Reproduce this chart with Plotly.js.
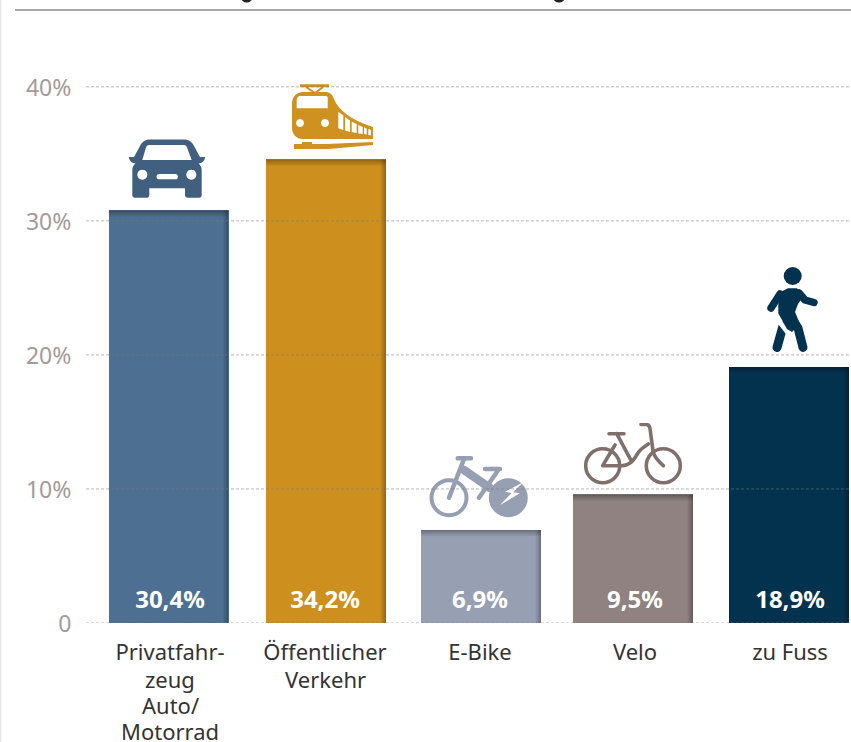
<!DOCTYPE html>
<html>
<head>
<meta charset="utf-8">
<script src="https://cdn.plot.ly/plotly-3.0.1.min.js"></script>
<style>html,body{margin:0;padding:0;background:#fff}#chart{width:851px;height:742px}</style>
</head>
<body>
<div id="chart"></div>
<script>
var categoryLines = [['Privatfahr-', 'zeug', 'Auto/', 'Motorrad'], ['Öffentlicher', 'Verkehr'], ['E-Bike'], ['Velo'], ['zu Fuss']];
var barHeights = [30.8, 34.6, 6.95, 9.6, 19.1];
var valueLabels = ['30,4%', '34,2%', '6,9%', '9,5%', '18,9%'];
var barColors = ['#4d6f92', '#cd8f1e', '#979fb3', '#8f8280', '#03324f'];
var iconColors = ['#41607f', '#cf911f', '#979fb3', '#7f706c', '#03324f'];
var tickValues = [0, 10, 20, 30, 40];
var tickLabels = ['0', '10%', '20%', '30%', '40%'];

var W = 851, H = 742, ML = 86, MT = 60, MB = 119;
var yMax = 42;
var FONT = 'Noto Sans, Open Sans, sans-serif';
var barWidth = 120 / 155;
var barNudge = [-1.5 / 155, 1 / 155, 1 / 155, -2 / 155, -1 / 155];
var idx = categoryLines.map(function (_, i) { return i; });

function uri(svg) { return 'data:image/svg+xml;base64,' + btoa(svg); }
function paperX(px) { return (px - ML) / (W - ML); }
function paperY(py) { return (H - MB - py) / (H - MB - MT); }
function icon(w, h, vb, body) {
  return uri('<svg xmlns="http://www.w3.org/2000/svg" width="' + w * 3 + '" height="' + h * 3 + '" viewBox="' + vb + '">' + body + '</svg>');
}

var carSvg = '<path fill="' + iconColors[0] + '" fill-rule="evenodd" d="M21 .5 H55 C60 .5 63 3 65 7 L71 18 H76 C76 21 74 24 69.5 24.5 C71.5 26 72.7 28 72.7 31 V56 C72.7 58 71.7 58.7 70 58.7 H59 C57 58.7 56 58 56 56 V49.3 H20.3 V56 C20.3 58 19.3 58.7 18 58.7 H6 C4.3 58.7 3.3 58 3.3 56 V31 C3.3 28 4.5 26 6.5 24.5 C2 24 0 21 0 18 H5 L11 7 C13 3 16 .5 21 .5 Z M20 6 C18.5 6 17.5 7 17 8.5 L13.3 21 H62.7 L58 8.5 C57.5 7 56.5 6 55 6 Z M13.3 30.7 a5 5 0 1 0 .01 0 Z M62.3 30.7 a5 5 0 1 0 .01 0 Z M30.2 35 a2.6 2.6 0 0 0 0 5.3 H46.2 a2.6 2.6 0 0 0 0 -5.3 Z"/>';
var trainSvg = '<path fill="' + iconColors[1] + '" fill-rule="evenodd" d="M12 8 H34 C39 8 41 10 43 15 C47 26 60 36 82 43 V55 H12 C5 55 1 50 1 44 V20 C1 13 5 8 12 8 Z M9 12 C7 12 5.7 14 5.7 16 V24.3 H36.7 V14 C36.7 12.5 36 12 34 12 Z M9 35 a4 4 0 1 0 .01 0 Z M34 35 a4 4 0 1 0 .01 0 Z M47.3 27.7 V44.3 L52.3 46 V31.5 Z M54 33 V46.5 L59 48 V36.5 Z M60.7 37.7 V48 L65.7 49 V40 Z M67.3 41 V49.5 L71.7 50 V43 Z M73 43.3 V50 L75.7 50.5 V44.7 Z M77.3 45 V51 L80 51.5 V46 Z"/><path fill="' + iconColors[1] + '" d="M3 60 H11 V58 H21 V60 H35 L82 58 V61 L38 65 H3 Z M9 .3 H38 V3.3 H9 Z"/><path fill="none" stroke="' + iconColors[1] + '" stroke-width="2" d="M15 3 L24 9 L32 3"/>';
var ebikeSvg = '<g fill="none" stroke="' + iconColors[2] + '" stroke-linecap="round" stroke-linejoin="round"><circle cx="20" cy="42.7" r="17.5" stroke-width="4"/><path d="M28.7 3.3 H42 M35.3 3.3 L20 42.7 M56 14 H71 M70 14 L50 42.7" stroke-width="4.5"/><path d="M35 15 L61 33" stroke-width="8.5"/></g><circle cx="79.3" cy="42.7" r="19.5" fill="' + iconColors[2] + '"/><path d="M94.3 27.3 L76 36.7 L82.7 38 L71 50 L91 38.3 L84 37.3 Z" fill="#fff"/>';
var bikeSvg = '<g fill="none" stroke="' + iconColors[3] + '" stroke-width="3.6" stroke-linecap="round" stroke-linejoin="round"><circle cx="18.7" cy="42.7" r="17"/><circle cx="79.3" cy="42.7" r="17"/><path d="M25 10.7 H40 M32.7 10.7 L47.7 38.7 M31 22 L18.7 42.7 H37.7 C47 42.7 50 36 54 30 C56 26 60 24 64.3 21 M57 1.5 H62 C65 1.5 66 4 66.2 7 L69 28 C70 34 74 38 79.3 42.7"/></g>';
var walkSvg = '<circle cx="26.7" cy="10" r="9" fill="' + iconColors[4] + '"/><g fill="none" stroke-linejoin="round"><path d="M17 60 L11 81.5" stroke="' + iconColors[4] + '" stroke-width="9" stroke-linecap="round"/><path d="M9 50 L23 68" stroke="#fff" stroke-width="5"/></g><path d="M12.3 27 L22 22.3 H31 L37 31 L32 38 L29 46 L34 58 L26 66 L21 63 L12.3 47.3 Z" fill="' + iconColors[4] + '"/><g fill="none" stroke="' + iconColors[4] + '" stroke-linecap="round" stroke-linejoin="round"><path d="M14 28 L5 42" stroke-width="7.5"/><path d="M33 27 L39 34 L48 36.5" stroke-width="7.5"/><path d="M28 56 L32 62 L37 81.5" stroke-width="9"/></g>';

var icons = [
  { svg: carSvg,   vb: '0 0 76 59',  x: 129, y: 139, w: 76, h: 59 },
  { svg: trainSvg, vb: '0 0 83 66',  x: 291, y: 84,  w: 83, h: 66 },
  { svg: ebikeSvg, vb: '0 0 100 63', x: 429, y: 455, w: 100, h: 63 },
  { svg: bikeSvg,  vb: '0 0 99 62',  x: 584, y: 423, w: 99, h: 62 },
  { svg: walkSvg,  vb: '0 0 53 87',  x: 766, y: 266, w: 53, h: 87 }
];

var images = icons.map(function (k) {
  return {
    source: icon(k.w, k.h, k.vb, k.svg),
    xref: 'paper', yref: 'paper',
    x: paperX(k.x), y: paperY(k.y),
    sizex: k.w / (W - ML), sizey: k.h / (H - MB - MT),
    xanchor: 'left', yanchor: 'top', sizing: 'stretch', layer: 'above'
  };
});

// Soft inner edge of each bar, positioned through the axes from the bar values
idx.forEach(function (i) {
  var unitsPerPx = yMax / (H - MB - MT);
  var edgeH = 7 * unitsPerPx, edgeW = 6 / 155;
  var left = i + barNudge[i] - barWidth / 2;
  images.push({
    source: uri('<svg xmlns="http://www.w3.org/2000/svg" width="120" height="8" preserveAspectRatio="none" viewBox="0 0 120 8"><defs><linearGradient id="t" x1="0" y1="0" x2="0" y2="1"><stop offset="0" stop-color="#000" stop-opacity=".32"/><stop offset="1" stop-color="#000" stop-opacity="0"/></linearGradient></defs><rect width="120" height="8" fill="url(#t)"/></svg>'),
    xref: 'x', yref: 'y', x: left, y: barHeights[i], sizex: barWidth, sizey: edgeH,
    xanchor: 'left', yanchor: 'top', sizing: 'stretch', layer: 'above'
  });
  images.push({
    source: uri('<svg xmlns="http://www.w3.org/2000/svg" width="8" height="120" preserveAspectRatio="none" viewBox="0 0 8 120"><defs><linearGradient id="r" x1="0" y1="0" x2="1" y2="0"><stop offset="0" stop-color="#000" stop-opacity="0"/><stop offset="1" stop-color="#000" stop-opacity=".3"/></linearGradient></defs><rect width="8" height="120" fill="url(#r)"/></svg>'),
    xref: 'x', yref: 'y', x: left + barWidth - edgeW, y: barHeights[i], sizex: edgeW, sizey: barHeights[i],
    xanchor: 'left', yanchor: 'top', sizing: 'stretch', layer: 'above'
  });
});

var gridShapes = tickValues.map(function (v) {
  return {
    type: 'line', xref: 'paper', yref: 'y', x0: 0, x1: 1, y0: v, y1: v, layer: 'above',
    line: { color: 'rgba(120,120,120,0.55)', width: 1, dash: '3px,2px' }
  };
});
var frameShapes = [
  { type: 'line', xref: 'paper', yref: 'paper', x0: paperX(15), x1: 1, y0: paperY(10), y1: paperY(10),
    line: { color: '#8a8a8a', width: 1.5 } },
  { type: 'line', xref: 'paper', yref: 'paper', x0: paperX(0.5), x1: paperX(0.5), y0: paperY(0), y1: paperY(742),
    line: { color: '#e6e6e6', width: 1.5 } },
  { type: 'circle', xref: 'paper', yref: 'paper', x0: paperX(241), x1: paperX(252.5), y0: paperY(2.5), y1: paperY(-8),
    fillcolor: '#222', line: { width: 0 } },
  { type: 'circle', xref: 'paper', yref: 'paper', x0: paperX(553), x1: paperX(565), y0: paperY(2.5), y1: paperY(-8),
    fillcolor: '#222', line: { width: 0 } }
];

// Lines after the first of each category label, at the reference's tighter leading
var lineYs = [679, 705, 731];
var extraLines = [];
categoryLines.forEach(function (lines, i) {
  lines.slice(1).forEach(function (t, j) {
    extraLines.push({
      xref: 'x', yref: 'paper', x: i, y: paperY(lineYs[j]), text: t, showarrow: false,
      xanchor: 'center', yanchor: 'middle', font: { family: FONT, size: 22, color: '#333333' }
    });
  });
});

var bars = {
  type: 'bar', x: idx, y: barHeights, width: barWidth,
  offset: barNudge.map(function (n) { return n - barWidth / 2; }),
  marker: { color: barColors, line: { width: 0 } },
  hoverinfo: 'skip', showlegend: false
};
var labels = {
  type: 'scatter', mode: 'text', x: idx, y: idx.map(function () { return 1.6; }),
  text: valueLabels, textposition: 'middle center',
  textfont: { family: FONT, size: 24, color: '#ffffff', weight: 700 },
  hoverinfo: 'skip', showlegend: false, cliponaxis: false
};

var layout = {
  width: W, height: H,
  margin: { l: ML, r: 0, t: MT, b: MB, pad: 0 },
  paper_bgcolor: '#fff', plot_bgcolor: 'rgba(0,0,0,0)',
  showlegend: false, bargap: 0,
  xaxis: {
    type: 'linear', range: [-84 / 155, 4 + 61 / 155], tickmode: 'array', tickvals: idx,
    ticktext: categoryLines.map(function (l) { return l[0]; }),
    showgrid: false, zeroline: false, showline: false, ticks: 'outside', ticklen: 10, tickcolor: 'rgba(0,0,0,0)', fixedrange: true, tickangle: 0,
    tickfont: { family: FONT, size: 22, color: '#333333' }
  },
  yaxis: {
    range: [0, yMax], tickmode: 'array', tickvals: tickValues, ticktext: tickLabels,
    showgrid: false, zeroline: false, showline: false, ticks: 'outside', ticklen: 9, tickcolor: 'rgba(0,0,0,0)', fixedrange: true,
    ticklabelshift: 1,
    tickfont: { family: FONT, size: 23, color: '#a29b99' }
  },
  images: images,
  annotations: extraLines,
  shapes: gridShapes.concat(frameShapes)
};

Plotly.newPlot('chart', [bars, labels], layout, { displayModeBar: false, staticPlot: true });
</script>
</body>
</html>
